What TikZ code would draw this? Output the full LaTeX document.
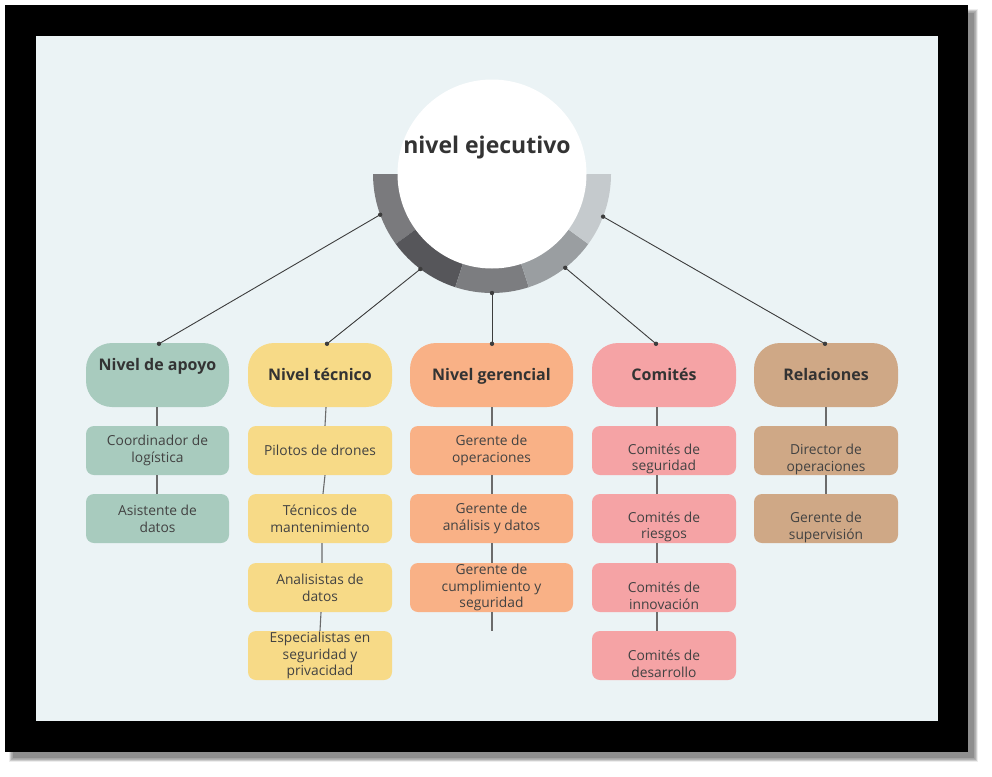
\documentclass[tikz,border=0pt]{standalone}
\usepackage{fontspec}
\setmainfont{Open Sans}
\definecolor{pagebg}{HTML}{EBF3F5}
\definecolor{hdrtxt}{HTML}{333333}
\definecolor{subtxt}{HTML}{424242}
\definecolor{cApoyo}{HTML}{A8CBBE}
\definecolor{cTecnico}{HTML}{F7DA87}
\definecolor{cGerencial}{HTML}{F9B186}
\definecolor{cComites}{HTML}{F5A3A5}
\definecolor{cRelaciones}{HTML}{CFA886}
\definecolor{rgA}{HTML}{7A7A7D}
\definecolor{rgB}{HTML}{56565A}
\definecolor{rgC}{HTML}{7C7D80}
\definecolor{rgD}{HTML}{9A9EA1}
\definecolor{rgE}{HTML}{C5CACD}
\definecolor{linkgray}{HTML}{3D3D3D}
\definecolor{stemgray}{HTML}{6B6B6B}
\begin{document}
\begin{tikzpicture}[x=1pt,y=-1pt,
  hdrbox/.style={rounded corners=26pt, minimum height=64pt, inner sep=0pt},
  hdrtext/.style={font=\bfseries\fontsize{16}{19}\selectfont, text=hdrtxt,
    text height=11.5pt, text depth=0pt, inner sep=0pt},
  subbox/.style={rounded corners=8pt, minimum height=49pt, inner sep=0pt},
  subtext/.style={align=center, font=\fontsize{13.8}{16.7}\selectfont,
    text=subtxt, inner sep=0pt},
  link/.style={draw=linkgray, line width=0.9pt},
  stem/.style={draw=stemgray, line width=1.1pt},
  dot/.style={fill=linkgray}]
\useasboundingbox (0,0) rectangle (992,776);

% soft drop shadow behind the frame
\foreach \k in {0,...,7}
  \fill[black, opacity=0.07] (9+\k*0.6,9+\k*0.6) rectangle (974-\k*0.6+4,758-\k*0.6+4);
% black frame and light canvas
\fill[black] (5,5) rectangle (968,752);
\fill[pagebg] (36,36) rectangle (938,721);

% ring under the top circle, five segments
\begin{scope}[shift={(492,174)}]
  \foreach \a/\b/\c in {180/144/rgA, 144/108/rgB, 108/72/rgC, 72/36/rgD, 36/0/rgE}
    \fill[\c] (\a:119) arc[start angle=\a, end angle=\b, radius=119]
      -- (\b:88) arc[start angle=\b, end angle=\a, radius=88] -- cycle;
  \coordinate (r1) at (160:119);
  \coordinate (r2) at (127:119);
  \coordinate (r3) at (90:119);
  \coordinate (r4) at (52:119);
  \coordinate (r5) at (21:119);
\end{scope}
\node[circle, fill=white, minimum size=189pt, inner sep=0pt] (exec) at (492,174) {};
\node[font=\bfseries\fontsize{23}{27}\selectfont, text=hdrtxt, anchor=base, inner sep=0pt]
  (execlbl) at (487,153) {nivel ejecutivo};

% column headers
\node[hdrbox, fill=cApoyo, minimum width=143pt] (hA) at (157.5,375) {};
\node[hdrtext] (hAt) at (157.5,365) {Nivel de apoyo};
\node[hdrbox, hdrtext, fill=cTecnico, minimum width=144pt, minimum height=64pt] (hB) at (320,375) {Nivel técnico};
\node[hdrbox, hdrtext, fill=cGerencial, minimum width=163pt, minimum height=64pt] (hC) at (491.5,375) {Nivel gerencial};
\node[hdrbox, hdrtext, fill=cComites, minimum width=144pt, minimum height=64pt] (hD) at (664,375) {Comités};
\node[hdrbox, hdrtext, fill=cRelaciones, minimum width=144pt, minimum height=64pt] (hE) at (826,375) {Relaciones};

% Nivel de apoyo
\node[subbox, subtext, fill=cApoyo, minimum width=143pt] (a1) at (157.5,450.5) {Coordinador de\\logística};
\node[subbox, subtext, fill=cApoyo, minimum width=143pt] (a2) at (157.5,518.5) {Asistente de\\datos};
% Nivel técnico
\node[subbox, subtext, fill=cTecnico, minimum width=144pt] (b1) at (320,450.5) {Pilotos de drones};
\node[subbox, subtext, fill=cTecnico, minimum width=144pt] (b2) at (320,518.5) {Técnicos de\\mantenimiento};
\node[subbox, subtext, fill=cTecnico, minimum width=144pt] (b3) at (320,587.5) {Analisistas de\\datos};
\node[subbox, subtext, fill=cTecnico, minimum width=144pt] (b4) at (320,655.5) {Especialistas en\\seguridad y\\privacidad};
% Nivel gerencial
\node[subbox, subtext, fill=cGerencial, minimum width=163pt] (c1) at (491.5,450.5) {Gerente de\\operaciones};
\node[subbox, subtext, fill=cGerencial, minimum width=163pt] (c2) at (491.5,518.5) {Gerente de\\análisis y datos};
\node[subbox, subtext, fill=cGerencial, minimum width=163pt] (c3) at (491.5,587.5) {Gerente de\\cumplimiento y\\seguridad};
\coordinate (cEnd) at (492,631);
% Comités (labels sit a little low in their boxes)
\node[subbox, fill=cComites, minimum width=144pt] (d1) at (664,450.5) {};
\node[subbox, fill=cComites, minimum width=144pt] (d2) at (664,518.5) {};
\node[subbox, fill=cComites, minimum width=144pt] (d3) at (664,587.5) {};
\node[subbox, fill=cComites, minimum width=144pt] (d4) at (664,655.5) {};
\node[subtext] (d1t) at (664,459) {Comités de\\seguridad};
\node[subtext] (d2t) at (664,527) {Comités de\\riesgos};
\node[subtext] (d3t) at (664,596) {Comités de\\innovación};
\node[subtext] (d4t) at (664,664) {Comités de\\desarrollo};
% Relaciones
\node[subbox, fill=cRelaciones, minimum width=144pt] (e1) at (826,450.5) {};
\node[subbox, fill=cRelaciones, minimum width=144pt] (e2) at (826,518.5) {};
\node[subtext] (e1t) at (826,459.5) {Director de\\operaciones};
\node[subtext] (e2t) at (826,527.5) {Gerente de\\supervisión};

% vertical stems inside each column
\draw[stem] ([xshift=-0.5pt]hA.south) -- ([xshift=-0.5pt]a1.north) ([xshift=-0.5pt]a1.south) -- ([xshift=-0.5pt]a2.north);
\draw[stem] ([xshift=6pt]hB.south) -- ([xshift=5pt]b1.north) ([xshift=5pt]b1.south) -- ([xshift=3pt]b2.north)
  ([xshift=2pt]b2.south) -- ([xshift=2pt]b3.north) ([xshift=1pt]b3.south) -- ([xshift=0pt]b4.north);
\draw[stem] ([xshift=0.5pt]hC.south) -- ([xshift=0.5pt]c1.north) ([xshift=0.5pt]c1.south) -- ([xshift=0.5pt]c2.north)
  ([xshift=0.5pt]c2.south) -- ([xshift=0.5pt]c3.north) ([xshift=0.5pt]c3.south) -- (cEnd);
\draw[stem] ([xshift=-7pt]hD.south) -- ([xshift=-7pt]d1.north) ([xshift=-7pt]d1.south) -- ([xshift=-7pt]d2.north)
  ([xshift=-7pt]d2.south) -- ([xshift=-7pt]d3.north) ([xshift=-7pt]d3.south) -- ([xshift=-7pt]d4.north);
\draw[stem] (hE.south) -- (e1.north) (e1.south) -- (e2.north);

% links from the ring to the headers
\foreach \r/\h/\s in {r1/hA/1.5pt, r2/hB/7pt, r3/hC/0.5pt, r4/hD/-8pt, r5/hE/-1pt}{
  \draw[link] (\r) -- ([xshift=\s, yshift=-1pt]\h.north);
  \fill[dot] (\r) circle[radius=2.2];
  \fill[dot] ([xshift=\s, yshift=-1pt]\h.north) circle[radius=2.2];
}
\end{tikzpicture}
\end{document}
